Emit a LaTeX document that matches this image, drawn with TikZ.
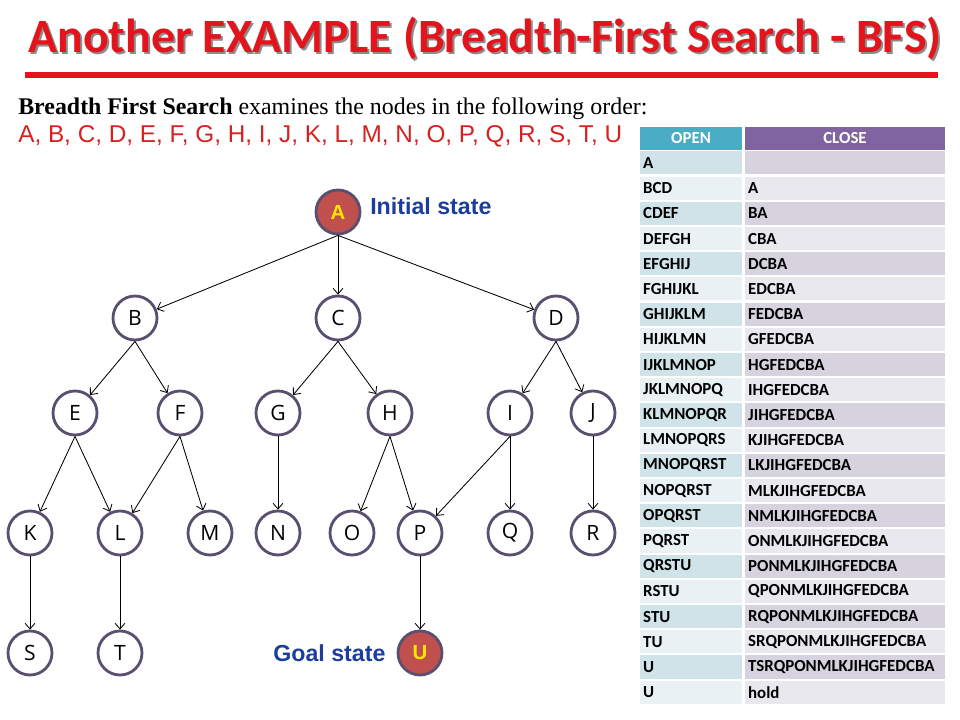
\documentclass[tikz,border=0pt]{standalone}
\usepackage{fontspec}
\usetikzlibrary{arrows.meta}
\newfontfamily\titlefont{Carlito}
\newfontfamily\arialfont{Liberation Sans}
\newfontfamily\serffont{Liberation Serif}
\newfontfamily\letterfont{Open Sans}
\definecolor{titlered}{HTML}{E3141B}
\definecolor{seqred}{HTML}{D92020}
\definecolor{stateblue}{HTML}{1B3D9C}
\definecolor{stateline}{HTML}{5A4F70}
\definecolor{goalred}{HTML}{C0504D}
\definecolor{goalyellow}{HTML}{FFE600}
\definecolor{openhead}{HTML}{4BACC6}
\definecolor{closehead}{HTML}{8064A2}
\definecolor{opendark}{HTML}{D0E3E8}
\definecolor{openlight}{HTML}{E9F1F4}
\definecolor{closedark}{HTML}{D6D3DF}
\definecolor{closelight}{HTML}{EAE8EF}
\begin{document}
\begin{tikzpicture}[x=0.025cm, y=-0.025cm,
    state/.style={circle, draw=stateline, line width=2pt, fill=white, minimum size=1.1cm, inner sep=0pt,
      font=\letterfont\fontsize{15}{16}\selectfont},
    goal/.style={state, fill=goalred, text=goalyellow, font=\arialfont\bfseries\fontsize{14.5}{16}\selectfont},
    edge/.style={-{Straight Barb[length=4pt,width=7pt]}, line width=0.6pt},
    label/.style={anchor=base west, inner sep=0pt, text=stateblue, font=\arialfont\bfseries\fontsize{16.5}{18}\selectfont},
    head/.style={minimum width=#1, minimum height=0.575cm, inner sep=0pt, text=white,
      font=\titlefont\bfseries\fontsize{12}{14}\selectfont},
    cell/.style={minimum height=0.575cm, inner xsep=0.08cm, inner ysep=0pt, text width=#1, align=left,
      font=\titlefont\bfseries\fontsize{12}{14}\selectfont}]
    \useasboundingbox (0,0) rectangle (960,720);

    % --- title ---
    \node[text=black!45, font=\titlefont\bfseries\fontsize{34}{40}\selectfont] (titleshadow) at (487,40) {Another EXAMPLE (Breadth-First Search - BFS)};
    \node[text=titlered, font=\titlefont\bfseries\fontsize{34}{40}\selectfont] (title) at (485,38) {Another EXAMPLE (Breadth-First Search - BFS)};
    \fill[titlered] (25,72) rectangle (938,78);

    % --- order ---
    \node[anchor=base west, inner sep=0pt, font=\serffont\fontsize{17}{19}\selectfont] (intro) at (18,115)
      {\textbf{Breadth First Search} examines the nodes in the following order:};
    \node[anchor=base west, inner sep=0pt, text=seqred, font=\arialfont\fontsize{17.3}{19}\selectfont] (order) at (18,143)
      {A, B, C, D, E, F, G, H, I, J, K, L, M, N, O, P, Q, R, S, T, U};

    % --- tree ---
    \node[goal] (A) at (338,212) {A};
    \node[state] (B) at (135,318) {B};
    \node[state] (C) at (338,318) {C};
    \node[state] (D) at (556,318) {D};
    \node[state] (E) at (75,413) {E};
    \node[state] (F) at (180,413) {F};
    \node[state] (G) at (278,413) {G};
    \node[state] (H) at (390,413) {H};
    \node[state] (I) at (510,413) {I};
    \node[state] (J) at (593,413) {J};
    \node[state] (K) at (30,533) {K};
    \node[state] (L) at (120,533) {L};
    \node[state] (M) at (210,533) {M};
    \node[state] (N) at (278,533) {N};
    \node[state] (O) at (352,533) {O};
    \node[state] (P) at (420,533) {P};
    \node[state] (Q) at (510,533) {Q};
    \node[state] (R) at (593,533) {R};
    \node[state] (S) at (30,653) {S};
    \node[state] (T) at (120,653) {T};
    \node[goal] (U) at (420,653) {U};

    \node[label] (initial) at (370,215) {Initial state};
    \node[label] (goalstate) at (273,661) {Goal state};

    \draw[edge] (A.south) -- (B);
    \draw[edge] (A.south) -- (C);
    \draw[edge] (A.south) -- (D);
    \draw[edge] (B.south) -- (E);
    \draw[edge] (B.south) -- (F);
    \draw[edge] (C.south) -- (G);
    \draw[edge] (C.south) -- (H);
    \draw[edge] (D.south) -- (I);
    \draw[edge] (D.south) -- (J);
    \draw[edge] (E.south) -- (K);
    \draw[edge] (E.south) -- (L);
    \draw[edge] (F.south) -- (L);
    \draw[edge] (F.south) -- (M);
    \draw[edge] (G.south) -- (N);
    \draw[edge] (H.south) -- (O);
    \draw[edge] (H.south) -- (P);
    \draw[edge] (I.south) -- (P);
    \draw[edge] (I.south) -- (Q);
    \draw[edge] (J.south) -- (R);
    \draw[edge] (K.south) -- (S);
    \draw[edge] (L.south) -- (T);
    \draw[edge] (P.south) -- (U);

    % --- OPEN / CLOSE table ---
    \node[head=2.55cm, fill=openhead] (openh) at (691,138.5) {OPEN};
    \node[head=5cm, fill=closehead] (closeh) at (845,138.5) {CLOSE};
    \foreach \o/\c [count=\i] in {A/{}, BCD/A, CDEF/BA, DEFGH/CBA, EFGHIJ/DCBA, FGHIJKL/EDCBA,
        GHIJKLM/FEDCBA, HIJKLMN/GFEDCBA, IJKLMNOP/HGFEDCBA, JKLMNOPQ/IHGFEDCBA,
        KLMNOPQR/JIHGFEDCBA, LMNOPQRS/KJIHGFEDCBA, MNOPQRST/LKJIHGFEDCBA,
        NOPQRST/MLKJIHGFEDCBA, OPQRST/NMLKJIHGFEDCBA, PQRST/ONMLKJIHGFEDCBA,
        QRSTU/PONMLKJIHGFEDCBA, RSTU/QPONMLKJIHGFEDCBA, STU/RQPONMLKJIHGFEDCBA,
        TU/SRQPONMLKJIHGFEDCBA, U/TSRQPONMLKJIHGFEDCBA, U/hold} {
      \pgfmathsetmacro\ry{163+(\i-1)*25.2}
      \ifodd\i \def\oc{opendark}\def\cc{closedark}\else \def\oc{openlight}\def\cc{closelight}\fi
      \node[cell=2.39cm, fill=\oc] (open\i) at (691,\ry) {\o};
      \node[cell=4.84cm, fill=\cc] (close\i) at (845,\ry) {\c};
    }
\end{tikzpicture}
\end{document}
